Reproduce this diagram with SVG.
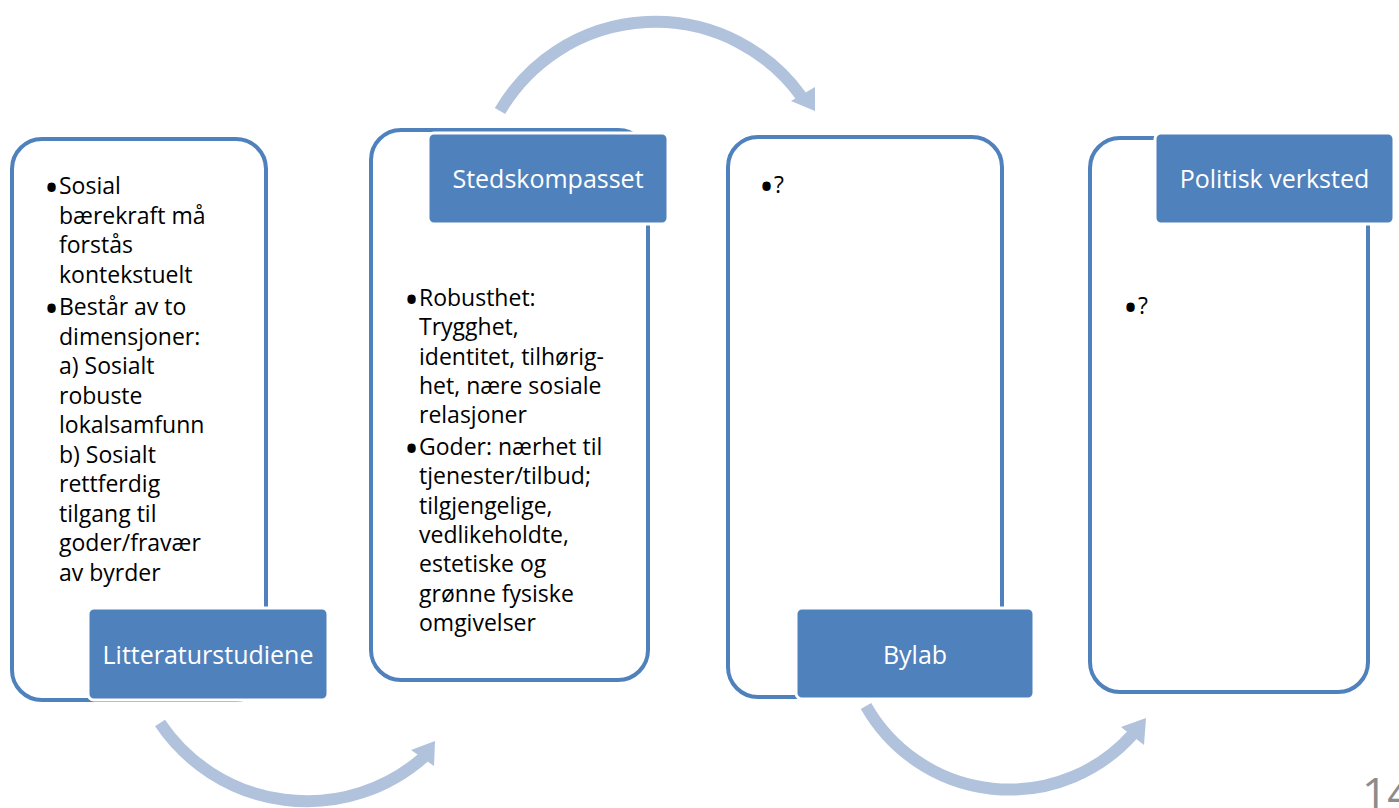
<svg xmlns="http://www.w3.org/2000/svg" width="1399" height="808" viewBox="0 0 1399 808">
<style>
.outer{fill:#ffffff;stroke:#4f81bd;stroke-width:4}
.lab{fill:#4f81bd;stroke:#ffffff;stroke-width:3}
.labt{font-family:"Open Sans","Noto Sans",sans-serif;font-size:25px;fill:#ffffff;text-anchor:middle}
.body{font-family:"Open Sans","Noto Sans",sans-serif;font-size:23px;fill:#000000}
.bul{font-size:40px}
.arc{fill:none;stroke:#b1c2dd;stroke-width:12}
.head{fill:#b1c2dd}
.pg{font-family:"Open Sans","Noto Sans",sans-serif;font-size:44px;fill:#8c8c8c}
</style>
<rect width="1399" height="808" fill="#ffffff"/>
<g id="connectors">
<path class="arc" d="M 500 111 A 180 180 0 0 1 801 96"/>
<polygon class="head" points="791,101 815,87 815,111"/>
<path class="arc" d="M 160 723 A 177 177 0 0 0 424 757"/>
<polygon class="head" points="411,750 435,741 434,766"/>
<path class="arc" d="M 866 706 A 165 165 0 0 0 1133 734"/>
<polygon class="head" points="1121,727 1146,718 1144,745"/>
</g>
<g id="node-litteraturstudiene">
<rect class="outer" x="12" y="139" width="254" height="561" rx="30"/>
<text class="body"><tspan class="bul" x="44" y="202">•</tspan><tspan x="59" y="194">Sosial</tspan><tspan x="59" y="223.5">bærekraft må</tspan><tspan x="59" y="253">forstås</tspan><tspan x="59" y="282.5">kontekstuelt</tspan><tspan class="bul" x="44" y="323">•</tspan><tspan x="59" y="315">Består av to</tspan><tspan x="59" y="344.5">dimensjoner:</tspan><tspan x="59" y="374">a) Sosialt</tspan><tspan x="59" y="403.5">robuste</tspan><tspan x="59" y="433">lokalsamfunn</tspan><tspan x="59" y="462.5">b) Sosialt</tspan><tspan x="59" y="492">rettferdig</tspan><tspan x="59" y="521.5">tilgang til</tspan><tspan x="59" y="551">goder/fravær</tspan><tspan x="59" y="580.5">av byrder</tspan></text>
<rect class="lab" x="88" y="608" width="240" height="92" rx="6"/>
<text class="labt" x="208" y="664">Litteraturstudiene</text>
</g>
<g id="node-stedskompasset">
<rect class="outer" x="371" y="130" width="277" height="550" rx="30"/>
<rect class="lab" x="428" y="133" width="240" height="91" rx="6"/>
<text class="labt" x="548" y="188">Stedskompasset</text>
<text class="body"><tspan class="bul" x="404" y="314">•</tspan><tspan x="419" y="306">Robusthet:</tspan><tspan x="419" y="335.3">Trygghet,</tspan><tspan x="419" y="364.6">identitet, tilhørig-</tspan><tspan x="419" y="393.9">het, nære sosiale</tspan><tspan x="419" y="423.2">relasjoner</tspan><tspan class="bul" x="404" y="463">•</tspan><tspan x="419" y="455">Goder: nærhet til</tspan><tspan x="419" y="484.3">tjenester/tilbud;</tspan><tspan x="419" y="513.6">tilgjengelige,</tspan><tspan x="419" y="542.9">vedlikeholdte,</tspan><tspan x="419" y="572.2">estetiske og</tspan><tspan x="419" y="601.5">grønne fysiske</tspan><tspan x="419" y="630.8">omgivelser</tspan></text>
</g>
<g id="node-bylab">
<rect class="outer" x="728" y="137" width="274" height="560" rx="30"/>
<text class="body"><tspan class="bul" x="759" y="201">•</tspan><tspan x="774" y="193">?</tspan></text>
<rect class="lab" x="796" y="608" width="238" height="91" rx="6"/>
<text class="labt" x="915" y="664">Bylab</text>
</g>
<g id="node-politisk-verksted">
<rect class="outer" x="1090" y="138" width="278" height="554" rx="30"/>
<rect class="lab" x="1155" y="133" width="239" height="91" rx="6"/>
<text class="labt" x="1274.5" y="188">Politisk verksted</text>
<text class="body"><tspan class="bul" x="1123" y="322">•</tspan><tspan x="1138" y="314">?</tspan></text>
</g>
<text class="pg" x="1362" y="809">14</text>
</svg>
